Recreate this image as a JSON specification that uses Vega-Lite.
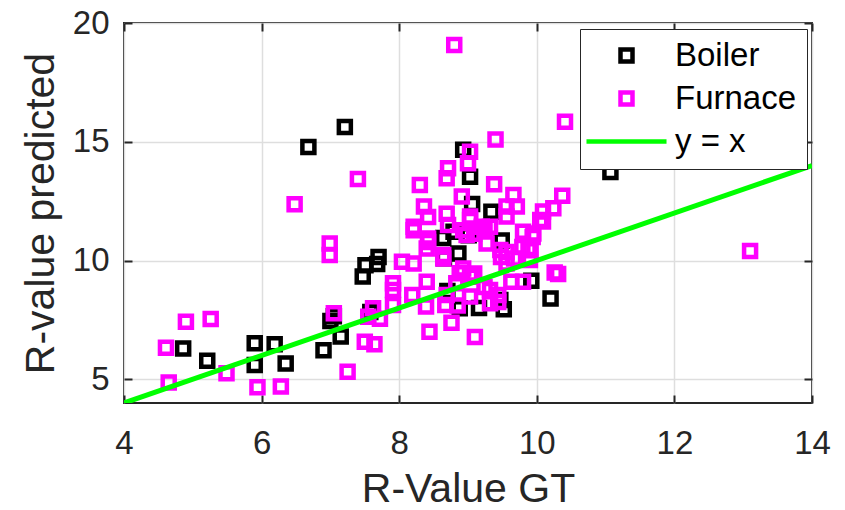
{
  "$schema": "https://vega.github.io/schema/vega-lite/v6.json",
  "width": 688,
  "height": 380,
  "autosize": {"type": "none"},
  "padding": {"left": 124, "top": 23, "right": 33, "bottom": 107},
  "background": "white",
  "config": {
    "font": "Liberation Sans",
    "view": {"stroke": "#262626", "strokeWidth": 2},
    "axis": {
      "domain": false,
      "labelFont": "Liberation Sans",
      "titleFont": "Liberation Sans",
      "labelFontSize": 33,
      "titleFontSize": 41,
      "titleFontWeight": "normal",
      "labelColor": "#262626",
      "titleColor": "#262626",
      "gridColor": "#dedede",
      "gridWidth": 1.5,
      "tickColor": "#262626",
      "tickWidth": 2,
      "tickSize": -8,
      "labelFlush": false,
      "labelOverlap": false
    },
    "legend": {
      "orient": "none",
      "legendX": 456,
      "legendY": 6,
      "direction": "vertical",
      "padding": 10,
      "strokeColor": "#262626",
      "fillColor": "white",
      "labelFont": "Liberation Sans",
      "labelFontSize": 33,
      "labelColor": "#000000",
      "symbolSize": 144,
      "symbolStrokeWidth": 4.5,
      "symbolOffset": 20,
      "labelOffset": 32,
      "rowPadding": 9,
      "labelLimit": 300
    }
  },
  "datasets": {
    "pts": [
      {"series": "Boiler", "x": 4.86, "y": 6.29},
      {"series": "Boiler", "x": 5.21, "y": 5.78},
      {"series": "Boiler", "x": 5.9, "y": 6.52},
      {"series": "Boiler", "x": 6.19, "y": 6.47},
      {"series": "Boiler", "x": 5.9, "y": 5.6},
      {"series": "Boiler", "x": 6.35, "y": 5.66},
      {"series": "Boiler", "x": 6.9, "y": 6.22},
      {"series": "Boiler", "x": 7.0, "y": 7.45},
      {"series": "Boiler", "x": 7.05, "y": 7.65},
      {"series": "Boiler", "x": 7.15, "y": 6.8},
      {"series": "Boiler", "x": 7.21, "y": 15.62},
      {"series": "Boiler", "x": 6.68, "y": 14.78},
      {"series": "Boiler", "x": 7.47, "y": 9.33},
      {"series": "Boiler", "x": 7.51, "y": 9.8},
      {"series": "Boiler", "x": 7.7, "y": 10.15},
      {"series": "Boiler", "x": 7.68, "y": 9.85},
      {"series": "Boiler", "x": 7.58, "y": 7.83},
      {"series": "Boiler", "x": 8.93, "y": 14.66},
      {"series": "Boiler", "x": 9.03, "y": 13.53},
      {"series": "Boiler", "x": 9.06, "y": 12.38},
      {"series": "Boiler", "x": 9.34, "y": 12.05},
      {"series": "Boiler", "x": 9.49, "y": 10.84},
      {"series": "Boiler", "x": 9.01, "y": 11.06},
      {"series": "Boiler", "x": 8.86, "y": 10.3},
      {"series": "Boiler", "x": 8.65, "y": 10.1},
      {"series": "Boiler", "x": 8.64, "y": 10.95},
      {"series": "Boiler", "x": 8.79, "y": 11.21},
      {"series": "Boiler", "x": 9.16, "y": 8.0},
      {"series": "Boiler", "x": 9.52, "y": 7.95},
      {"series": "Boiler", "x": 9.92, "y": 9.15},
      {"series": "Boiler", "x": 10.2, "y": 8.4},
      {"series": "Boiler", "x": 11.07, "y": 13.73},
      {"series": "Boiler", "x": 8.7, "y": 8.72},
      {"series": "Boiler", "x": 8.88, "y": 7.99},
      {"series": "Boiler", "x": 9.47, "y": 8.34},
      {"series": "Furnace", "x": 4.61, "y": 6.33},
      {"series": "Furnace", "x": 4.65, "y": 4.86},
      {"series": "Furnace", "x": 4.9, "y": 7.42},
      {"series": "Furnace", "x": 5.26, "y": 7.54},
      {"series": "Furnace", "x": 5.49, "y": 5.25},
      {"series": "Furnace", "x": 5.94, "y": 4.66},
      {"series": "Furnace", "x": 6.28, "y": 4.69},
      {"series": "Furnace", "x": 7.25, "y": 5.32},
      {"series": "Furnace", "x": 6.48, "y": 12.37},
      {"series": "Furnace", "x": 7.4, "y": 13.43},
      {"series": "Furnace", "x": 6.99, "y": 10.72},
      {"series": "Furnace", "x": 6.99, "y": 10.23},
      {"series": "Furnace", "x": 7.05, "y": 7.78},
      {"series": "Furnace", "x": 7.5, "y": 6.58},
      {"series": "Furnace", "x": 7.64, "y": 6.47},
      {"series": "Furnace", "x": 7.62, "y": 7.99},
      {"series": "Furnace", "x": 7.72, "y": 7.55},
      {"series": "Furnace", "x": 7.55, "y": 7.63},
      {"series": "Furnace", "x": 8.8, "y": 19.07},
      {"series": "Furnace", "x": 10.41, "y": 15.84},
      {"series": "Furnace", "x": 9.4, "y": 15.1},
      {"series": "Furnace", "x": 9.03, "y": 14.58},
      {"series": "Furnace", "x": 9.0, "y": 14.09},
      {"series": "Furnace", "x": 8.71, "y": 13.88},
      {"series": "Furnace", "x": 8.69, "y": 13.46},
      {"series": "Furnace", "x": 8.3, "y": 13.18},
      {"series": "Furnace", "x": 9.38, "y": 13.21},
      {"series": "Furnace", "x": 8.91, "y": 12.69},
      {"series": "Furnace", "x": 9.66, "y": 12.76},
      {"series": "Furnace", "x": 10.37, "y": 12.73},
      {"series": "Furnace", "x": 8.36, "y": 12.27},
      {"series": "Furnace", "x": 9.56, "y": 12.27},
      {"series": "Furnace", "x": 9.71, "y": 12.27},
      {"series": "Furnace", "x": 10.24, "y": 12.2},
      {"series": "Furnace", "x": 10.09, "y": 12.06},
      {"series": "Furnace", "x": 8.42, "y": 11.83},
      {"series": "Furnace", "x": 8.69, "y": 11.97},
      {"series": "Furnace", "x": 9.03, "y": 11.85},
      {"series": "Furnace", "x": 9.56, "y": 11.85},
      {"series": "Furnace", "x": 10.05, "y": 11.71},
      {"series": "Furnace", "x": 10.09, "y": 11.64},
      {"series": "Furnace", "x": 8.71, "y": 11.49},
      {"series": "Furnace", "x": 9.03, "y": 11.71},
      {"series": "Furnace", "x": 9.2, "y": 11.42},
      {"series": "Furnace", "x": 9.32, "y": 11.42},
      {"series": "Furnace", "x": 8.21, "y": 11.42},
      {"series": "Furnace", "x": 8.21, "y": 11.27},
      {"series": "Furnace", "x": 8.93, "y": 11.27},
      {"series": "Furnace", "x": 9.24, "y": 11.27},
      {"series": "Furnace", "x": 9.09, "y": 11.13},
      {"series": "Furnace", "x": 8.98, "y": 11.07},
      {"series": "Furnace", "x": 9.8, "y": 11.21},
      {"series": "Furnace", "x": 9.95, "y": 11.14},
      {"series": "Furnace", "x": 9.94, "y": 10.99},
      {"series": "Furnace", "x": 8.42, "y": 10.93},
      {"series": "Furnace", "x": 8.42, "y": 10.78},
      {"series": "Furnace", "x": 8.4, "y": 10.51},
      {"series": "Furnace", "x": 9.27, "y": 10.72},
      {"series": "Furnace", "x": 9.79, "y": 10.57},
      {"series": "Furnace", "x": 9.88, "y": 10.51},
      {"series": "Furnace", "x": 9.47, "y": 10.44},
      {"series": "Furnace", "x": 9.56, "y": 10.36},
      {"series": "Furnace", "x": 9.91, "y": 10.43},
      {"series": "Furnace", "x": 8.64, "y": 10.23},
      {"series": "Furnace", "x": 8.04, "y": 9.95},
      {"series": "Furnace", "x": 8.21, "y": 9.87},
      {"series": "Furnace", "x": 8.64, "y": 10.08},
      {"series": "Furnace", "x": 9.48, "y": 10.15},
      {"series": "Furnace", "x": 9.67, "y": 10.08},
      {"series": "Furnace", "x": 9.9, "y": 10.02},
      {"series": "Furnace", "x": 9.56, "y": 9.87},
      {"series": "Furnace", "x": 7.91, "y": 9.04},
      {"series": "Furnace", "x": 7.91, "y": 8.76},
      {"series": "Furnace", "x": 7.91, "y": 8.13},
      {"series": "Furnace", "x": 8.19, "y": 8.55},
      {"series": "Furnace", "x": 8.4, "y": 9.11},
      {"series": "Furnace", "x": 8.39, "y": 8.06},
      {"series": "Furnace", "x": 8.67, "y": 8.13},
      {"series": "Furnace", "x": 8.76, "y": 7.38},
      {"series": "Furnace", "x": 8.44, "y": 7.0},
      {"series": "Furnace", "x": 9.1, "y": 6.78},
      {"series": "Furnace", "x": 8.88, "y": 9.46},
      {"series": "Furnace", "x": 9.03, "y": 9.32},
      {"series": "Furnace", "x": 8.83, "y": 9.04},
      {"series": "Furnace", "x": 8.93, "y": 9.66},
      {"series": "Furnace", "x": 9.09, "y": 9.45},
      {"series": "Furnace", "x": 9.24, "y": 8.88},
      {"series": "Furnace", "x": 9.32, "y": 8.76},
      {"series": "Furnace", "x": 9.32, "y": 8.2},
      {"series": "Furnace", "x": 9.03, "y": 8.48},
      {"series": "Furnace", "x": 8.69, "y": 8.55},
      {"series": "Furnace", "x": 9.44, "y": 8.55},
      {"series": "Furnace", "x": 9.44, "y": 8.25},
      {"series": "Furnace", "x": 9.63, "y": 9.11},
      {"series": "Furnace", "x": 9.8, "y": 9.11},
      {"series": "Furnace", "x": 10.26, "y": 9.49},
      {"series": "Furnace", "x": 10.31, "y": 9.43},
      {"series": "Furnace", "x": 13.1, "y": 10.4},
      {"series": "Furnace", "x": 8.85, "y": 8.11}
    ],
    "fit": [
      {"series": "y = x", "x": 4, "y": 4},
      {"series": "y = x", "x": 14, "y": 14}
    ]
  },
  "layer": [
    {
      "data": {"name": "pts"},
      "mark": {"type": "point", "filled": false, "strokeWidth": 4.5, "size": 144, "opacity": 1},
      "encoding": {
        "x": {
          "field": "x", "type": "quantitative",
          "scale": {"domain": [4, 14], "nice": false, "zero": false},
          "axis": {"orient": "bottom", "values": [4, 6, 8, 10, 12, 14], "title": "R-Value GT", "labelPadding": 32, "titlePadding": 9}
        },
        "y": {
          "field": "y", "type": "quantitative",
          "scale": {"domain": [4, 20], "nice": false, "zero": false},
          "axis": {"orient": "left", "values": [5, 10, 15, 20], "title": "R-value predicted", "labelPadding": 23, "titlePadding": 10}
        },
        "color": {
          "field": "series", "type": "nominal", "title": null,
          "scale": {"domain": ["Boiler", "Furnace", "y = x"], "range": ["#000000", "#ff00ff", "#00ff00"]}
        },
        "shape": {
          "field": "series", "type": "nominal", "title": null,
          "scale": {"domain": ["Boiler", "Furnace", "y = x"], "range": ["square", "square", "M-6.67,0H6.67"]}
        }
      }
    },
    {
      "data": {"name": "fit"},
      "mark": {"type": "line", "strokeWidth": 5, "clip": true},
      "encoding": {
        "x": {
          "field": "x", "type": "quantitative",
          "axis": {"orient": "top", "values": [4, 6, 8, 10, 12, 14], "labels": false, "grid": false, "title": null}
        },
        "y": {
          "field": "y", "type": "quantitative",
          "axis": {"orient": "right", "values": [5, 10, 15, 20], "labels": false, "grid": false, "title": null}
        },
        "color": {"field": "series", "type": "nominal", "title": null}
      }
    }
  ],
  "resolve": {"axis": {"x": "independent", "y": "independent"}}
}
